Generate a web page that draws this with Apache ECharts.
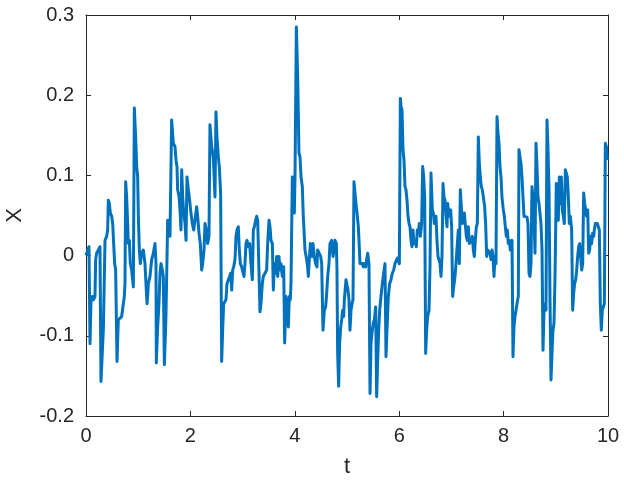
<!DOCTYPE html>
<html>
<head>
<meta charset="utf-8">
<script src="https://cdn.jsdelivr.net/npm/echarts@6/dist/echarts.min.js"></script>
<style>html,body{margin:0;padding:0;background:#fff}#c{width:624px;height:482px}</style>
</head>
<body>
<div id="c"></div>
<script>
var tValues = [0,0.057,0.077,0.096,0.121,0.14,0.172,0.185,0.204,0.236,0.268,0.287,0.332,0.364,0.396,0.415,0.428,0.447,0.466,0.492,0.511,0.53,0.549,0.568,0.594,0.619,0.651,0.683,0.715,0.734,0.747,0.76,0.779,0.798,0.811,0.83,0.849,0.875,0.907,0.926,0.951,0.971,0.99,1.003,1.022,1.041,1.066,1.098,1.13,1.149,1.169,1.181,1.194,1.226,1.258,1.29,1.322,1.341,1.347,1.373,1.398,1.418,1.437,1.462,1.481,1.501,1.53,
1.565,1.59,1.609,1.628,1.641,1.673,1.705,1.724,1.743,1.756,1.782,1.801,1.82,1.833,1.852,1.871,1.897,1.916,1.935,1.961,1.992,2.011,2.037,2.063,2.088,2.12,2.139,2.165,2.19,2.216,2.235,2.261,2.28,2.305,2.331,2.356,2.375,2.407,2.439,2.471,2.49,2.509,2.535,2.554,2.579,2.599,2.618,2.637,2.663,2.682,2.701,2.727,2.752,2.771,2.791,2.81,2.829,2.854,2.874,2.893,2.918,2.937,2.957,2.982,3.008,3.027,3.046,3.065,3.084,3.11,3.135,3.161,3.186,3.206,3.225,3.25,3.27,3.289,
3.333,3.352,3.378,3.397,3.429,3.461,3.48,3.506,3.525,3.544,3.57,3.589,3.608,3.633,3.653,3.672,3.697,3.716,3.736,3.761,3.787,3.806,3.831,3.85,3.876,3.895,3.914,3.927,3.953,3.972,3.991,4.004,4.017,4.03,4.055,4.08,4.1,4.119,4.144,4.163,4.195,4.227,4.246,4.259,4.278,4.298,4.31,4.33,4.349,4.374,4.4,4.425,4.438,4.451,4.476,4.496,4.515,4.54,4.566,4.591,4.611,4.63,4.655,4.674,4.706,4.732,4.751,4.77,4.796,4.808,4.821,4.84,4.859,4.879,4.898,4.917,4.936,4.949,
4.981,5.0,5.019,5.038,5.057,5.077,5.096,5.115,5.134,5.153,5.172,5.192,5.217,5.23,5.249,5.268,5.294,5.313,5.332,5.358,5.377,5.396,5.409,5.421,5.441,5.46,5.485,5.504,5.524,5.549,5.568,5.588,5.607,5.626,5.651,5.677,5.702,5.728,5.747,5.766,5.792,5.817,5.843,5.868,5.894,5.919,5.945,5.964,5.983,6.003,6.022,6.034,6.054,6.073,6.092,6.111,6.13,6.15,6.169,6.188,6.207,6.226,6.245,6.264,6.284,6.303,6.328,6.347,6.367,6.386,6.405,6.43,6.45,6.469,6.488,6.507,6.526,6.545,6.571,6.59,6.609,6.635,6.654,6.673,
6.705,6.724,6.743,6.762,6.782,6.801,6.82,6.839,6.858,6.877,6.897,6.916,6.929,6.948,6.967,6.986,7.005,7.024,7.044,7.069,7.088,7.114,7.133,7.152,7.171,7.19,7.21,7.229,7.248,7.267,7.286,7.305,7.324,7.344,7.363,7.382,7.401,7.42,7.439,7.458,7.478,7.497,7.516,7.535,7.554,7.573,7.593,7.612,7.637,7.656,7.676,7.695,7.72,7.739,7.759,7.778,7.797,7.816,7.835,7.854,7.874,7.893,7.912,7.931,7.95,7.969,7.995,8.014,8.033,8.052,8.071,8.091,8.11,8.129,8.142,8.161,8.18,8.199,8.218,8.238,8.257,8.27,8.282,8.295,8.314,8.333,8.352,8.372,8.391,
8.448,8.467,8.487,8.506,8.525,8.544,8.563,8.582,8.602,8.621,8.64,8.659,8.678,8.697,8.716,8.736,8.755,8.774,8.793,8.812,8.831,8.851,8.87,8.889,8.908,8.927,8.946,8.966,8.985,9.01,9.029,9.048,9.068,9.087,9.106,9.125,9.144,9.163,9.183,9.202,9.221,9.24,9.259,9.278,9.304,9.323,9.342,9.361,9.381,9.4,9.419,9.438,9.457,9.476,9.496,9.515,9.534,9.553,9.572,9.591,9.611,9.63,9.649,9.668,9.687,9.706,9.726,9.738,9.757,9.777,9.796,9.815,9.834,9.853,9.872,9.891,9.911,9.93,9.949,9.968,9.987,10.0];

var xValues = [0,0.011,-0.110,-0.055,-0.051,-0.055,-0.051,-0.005,0.003,0.007,0.011,-0.157,-0.093,0.019,0.024,0.032,0.069,0.065,0.053,0.049,0.040,0.015,-0.010,-0.018,-0.132,-0.080,-0.080,-0.076,-0.060,-0.051,-0.035,0.092,0.073,0.040,0.015,0.019,-0.010,-0.018,-0.039,0.184,0.148,0.111,0.098,0.049,0.007,-0.010,0.003,0.007,-0.010,-0.035,-0.060,-0.051,-0.035,-0.026,-0.005,0.003,0.015,-0.010,-0.134,-0.089,-0.060,-0.022,-0.010,-0.018,-0.026,-0.136,-0.080,
0.044,0.044,0.024,0.024,0.169,0.140,0.136,0.119,0.111,0.082,0.074,0.057,0.032,0.107,0.074,0.053,0.040,0.019,0.098,0.082,0.065,0.053,0.040,0.032,0.044,0.061,0.049,0.028,0.015,-0.018,-0.010,0.007,0.040,0.032,0.015,0.024,0.163,0.136,0.123,0.073,0.179,0.148,0.123,0.111,0.078,-0.132,-0.093,-0.060,-0.060,-0.055,-0.035,-0.030,-0.026,-0.022,-0.043,-0.018,-0.014,-0.005,0.024,0.032,0.036,0.007,-0.010,-0.014,-0.014,-0.026,-0.010,0.015,0.019,0.011,0.015,-0.010,-0.030,0.032,0.036,0.044,0.049,0.044,
-0.070,-0.060,-0.035,-0.026,-0.026,-0.018,0.015,0.044,0.036,0.019,0.015,-0.043,-0.010,-0.022,-0.001,-0.026,-0.001,-0.018,-0.010,-0.026,-0.014,-0.109,-0.051,-0.060,-0.089,-0.051,-0.055,-0.035,0.098,0.098,0.053,0.098,0.098,0.285,0.223,0.128,0.123,0.098,0.086,0.049,0.007,-0.005,-0.014,-0.026,-0.005,0.015,0.007,-0.001,0.015,-0.001,-0.010,-0.014,0.007,0.007,0.007,-0.001,-0.010,-0.093,-0.068,-0.064,-0.047,-0.026,-0.010,0.015,0.019,-0.001,0.007,0.019,0.015,-0.018,-0.122,-0.163,-0.109,-0.089,-0.080,-0.068,-0.076,-0.055,
-0.030,-0.030,-0.043,-0.055,-0.093,-0.068,-0.060,-0.055,0.092,0.078,0.065,0.053,0.036,0.019,-0.010,-0.010,-0.010,-0.014,-0.010,-0.014,-0.005,0.003,0.003,-0.010,-0.172,-0.109,-0.093,-0.084,-0.080,-0.064,-0.176,-0.130,-0.093,-0.068,-0.051,-0.035,-0.022,-0.010,-0.126,-0.093,-0.051,-0.035,-0.030,-0.022,-0.018,-0.010,-0.010,-0.003,-0.005,-0.010,0.196,0.186,0.182,0.132,0.119,0.086,0.082,0.069,0.049,0.040,0.036,0.019,0.011,0.032,0.015,0.019,0.011,0.032,0.028,0.040,0.024,0.040,0.111,0.098,0.073,-0.122,-0.093,-0.076,-0.068,-0.014,0.103,0.057,0.053,0.040,
0.049,0.019,-0.001,-0.001,-0.010,-0.026,-0.001,0.090,0.073,0.069,0.049,0.036,0.065,0.053,0.049,0.057,0.036,-0.051,-0.039,-0.026,-0.010,0.015,0.032,-0.010,0.082,0.061,0.040,0.040,0.053,0.053,0.024,0.019,0.036,0.015,0.015,0.019,0.024,0.007,-0.001,0.019,0.036,0.040,0.148,0.115,0.098,0.086,0.082,0.073,0.061,0.040,-0.001,0.007,0.007,0.003,-0.005,0.007,-0.001,-0.026,-0.001,-0.010,0.173,0.152,0.140,0.111,0.098,0.073,0.057,0.049,0.036,0.024,0.032,0.015,0.019,0.007,0.015,0.019,-0.126,-0.089,-0.076,-0.068,-0.060,-0.055,-0.051,0.132,0.123,0.115,0.098,0.073,0.049,
0.048,0.040,-0.022,-0.026,-0.010,0.086,0.073,0.049,0.003,0.140,0.111,0.073,0.065,0.065,0.040,0.007,-0.118,-0.068,-0.060,-0.068,0.169,0.132,0.082,-0.055,-0.155,-0.122,-0.093,-0.084,-0.026,0.090,0.073,0.044,0.098,0.065,0.098,0.057,0.049,0.040,0.107,0.107,0.098,0.073,0.040,0.049,0.032,-0.068,-0.047,-0.035,-0.030,-0.018,-0.001,0.011,0.015,0.015,-0.018,-0.010,0.078,0.065,0.057,0.049,0.057,0.003,0.007,0.024,0.015,0.028,0.024,0.032,0.040,0.040,0.040,0.036,0.032,-0.060,-0.093,-0.068,-0.064,-0.060,0.140,0.136,0.119,0.119];

var xTicks = [0, 2, 4, 6, 8, 10];
var yTicks = [-0.2, -0.1, 0, 0.1, 0.2, 0.3];

var seriesData = tValues.map(function (t, i) { return [t, xValues[i]]; });

var axisColor = '#262626';
var font = '"Liberation Sans", Arial, Helvetica, sans-serif';

function frameAxis(pos) {
  return {
    type: 'value', position: pos,
    axisLine: {show: true, onZero: false, lineStyle: {color: axisColor, width: 1}},
    axisTick: {show: true, inside: true, length: 5, lineStyle: {color: axisColor}},
    axisLabel: {show: false}, splitLine: {show: false}
  };
}

var xTop = frameAxis('top');
xTop.min = xTicks[0]; xTop.max = xTicks[xTicks.length - 1]; xTop.interval = 2;
var yRight = frameAxis('right');
yRight.min = yTicks[0]; yRight.max = yTicks[yTicks.length - 1]; yRight.interval = 0.1;

var chart = echarts.init(document.getElementById('c'), null, {renderer: 'canvas'});
chart.setOption({
  animation: false,
  backgroundColor: '#ffffff',
  grid: {left: 86, right: 16, top: 15, bottom: 66, containLabel: false, outerBoundsMode: 'none'},
  xAxis: [{
    type: 'value', min: xTicks[0], max: xTicks[xTicks.length - 1], interval: 2,
    position: 'bottom',
    name: 't', nameLocation: 'middle', nameGap: 40,
    nameTextStyle: {fontFamily: font, fontSize: 22, color: '#262626'},
    axisLine: {show: true, onZero: false, lineStyle: {color: axisColor, width: 1}},
    axisTick: {show: true, inside: true, length: 5, lineStyle: {color: axisColor}},
    axisLabel: {fontFamily: font, fontSize: 20, color: '#262626', margin: 10},
    splitLine: {show: false}
  }, xTop],
  yAxis: [{
    type: 'value', min: yTicks[0], max: yTicks[yTicks.length - 1], interval: 0.1,
    position: 'left',
    name: 'X', nameLocation: 'middle', nameGap: 60, nameRotate: 90,
    nameTextStyle: {fontFamily: font, fontSize: 22, color: '#262626'},
    axisLine: {show: true, onZero: false, lineStyle: {color: axisColor, width: 1}},
    axisTick: {show: true, inside: true, length: 5, lineStyle: {color: axisColor}},
    axisLabel: {fontFamily: font, fontSize: 20, color: '#262626', margin: 12,
      formatter: function (v) { return String(Math.round(v * 10) / 10); }},
    splitLine: {show: false}
  }, yRight],
  series: [{
    type: 'line', xAxisIndex: 0, yAxisIndex: 0,
    data: seriesData, showSymbol: false, symbol: 'none',
    lineStyle: {color: '#0072BD', width: 3, join: 'round'},
    clip: true
  }]
});
</script>
</body>
</html>
